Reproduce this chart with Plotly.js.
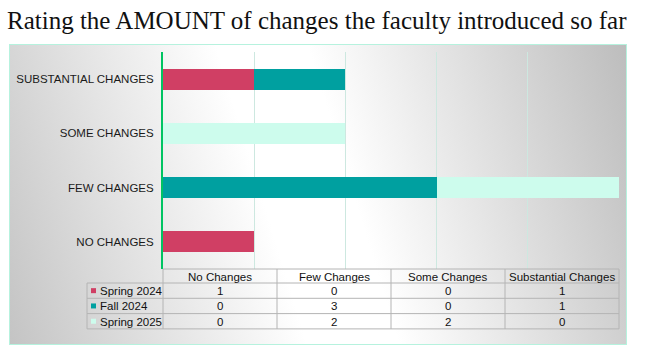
<!DOCTYPE html>
<html><head><meta charset="utf-8">
<script src="https://cdn.plot.ly/plotly-3.0.1.min.js"></script>
<style>
html,body{margin:0;padding:0;background:#fff;}
#wrap{position:relative;width:660px;height:358px;overflow:hidden;}
#bg{position:absolute;left:9px;top:44px;width:618px;height:301px;box-sizing:border-box;border:1.5px solid #b6f2de;background:linear-gradient(73deg,#c4c4c4 0%,#ffffff 42%,#ffffff 55%,#bdbdbd 100%);}
#chart{position:absolute;left:0;top:0;width:660px;height:358px;}
</style></head>
<body><div id="wrap"><div id="bg"></div><div id="chart"></div></div>
<script>
const categories = ["NO CHANGES","FEW CHANGES","SOME CHANGES","SUBSTANTIAL CHANGES"];
const tableColumns = ["No Changes","Few Changes","Some Changes","Substantial Changes"];
const seriesNames = ["Spring 2024","Fall 2024","Spring 2025"];
const spring2024 = [1,0,0,1];
const fall2024 = [0,3,0,1];
const spring2025 = [0,2,2,0];
const seriesValues = [spring2024, fall2024, spring2025];
const seriesColors = ["#d03f64","#00a0a0","#cdfced"];

const W = 660, H = 358;
const px = v => v / W, py = v => 1 - v / H;
const plotL = 163, plotR = 619, plotT = 52, plotB = 269;
const labelL = 87;
const headerH = 14, rowH = 15.3;
const colW = (plotR - plotL) / tableColumns.length;
const font = "Liberation Sans, Arial, sans-serif";

const traces = seriesNames.map((name, i) => ({
  type: "bar", orientation: "h", name: name,
  y: categories, x: seriesValues[i],
  marker: {color: seriesColors[i], line: {width: 0}},
  hoverinfo: "skip"
}));

const shapes = [], annotations = [];
const lineStyle = {color: "#b4b4b4", width: 1};
const rowEdges = [plotB, plotB + headerH];
for (let r = 1; r <= seriesNames.length; r++) rowEdges.push(plotB + headerH + r * rowH);
rowEdges.forEach((y, k) => {
  shapes.push({type: "line", xref: "paper", yref: "paper", x0: px(k === 0 ? plotL : labelL), x1: px(plotR), y0: py(y), y1: py(y), line: lineStyle});
});
shapes.push({type: "line", xref: "paper", yref: "paper", x0: px(labelL), x1: px(labelL), y0: py(plotB + headerH), y1: py(rowEdges[rowEdges.length-1]), line: lineStyle});
for (let c = 0; c <= tableColumns.length; c++) {
  const x = plotL + c * colW;
  shapes.push({type: "line", xref: "paper", yref: "paper", x0: px(x), x1: px(x), y0: py(plotB), y1: py(rowEdges[rowEdges.length-1]), line: lineStyle});
}
tableColumns.forEach((t, c) => {
  annotations.push({xref: "paper", yref: "paper", x: px(plotL + (c + 0.5) * colW), y: py(plotB + headerH / 2 + 0.5),
    text: t, showarrow: false, xanchor: "center", yanchor: "middle", font: {family: font, size: 11.5, color: "#111"}});
});
seriesNames.forEach((name, r) => {
  const yc = plotB + headerH + (r + 0.5) * rowH;
  shapes.push({type: "rect", xref: "paper", yref: "paper", x0: px(91), x1: px(96), y0: py(yc - 2.5), y1: py(yc + 2.5),
    fillcolor: seriesColors[r], line: {width: 0}});
  annotations.push({xref: "paper", yref: "paper", x: px(98), y: py(yc + 0.5), text: name, showarrow: false,
    xanchor: "left", yanchor: "middle", font: {family: font, size: 11.5, color: "#111"}});
  seriesValues[r].forEach((v, c) => {
    annotations.push({xref: "paper", yref: "paper", x: px(plotL + (c + 0.5) * colW), y: py(yc + 0.5), text: String(v), showarrow: false,
      xanchor: "center", yanchor: "middle", font: {family: font, size: 11.5, color: "#111"}});
  });
});

const layout = {
  width: W, height: H,
  margin: {l: 0, r: 0, t: 0, b: 0},
  paper_bgcolor: "rgba(0,0,0,0)", plot_bgcolor: "rgba(0,0,0,0)",
  showlegend: false, barmode: "stack", bargap: 0.61,
  title: {text: "Rating the AMOUNT of changes the faculty introduced so far", x: px(7), xanchor: "left", xref: "paper",
    y: py(20), yanchor: "middle", yref: "paper", font: {family: "Liberation Serif, serif", size: 25, color: "#111"}},
  xaxis: {domain: [px(plotL), px(plotR)], range: [0, 5], dtick: 1, showticklabels: false, ticks: "",
    showgrid: true, gridcolor: "#cde8e0", gridwidth: 1, zeroline: false, showline: false, fixedrange: true},
  yaxis: {domain: [py(plotB), py(plotT)], categoryorder: "array", categoryarray: categories,
    showline: true, linecolor: "#00c462", linewidth: 2, ticks: "", ticklabelstandoff: 5,
    tickfont: {family: font, size: 11.5, color: "#1a1a1a"}, showgrid: false, zeroline: false, fixedrange: true},
  shapes: shapes, annotations: annotations
};
Plotly.newPlot("chart", traces, layout, {displayModeBar: false, staticPlot: true});
</script></body></html>
